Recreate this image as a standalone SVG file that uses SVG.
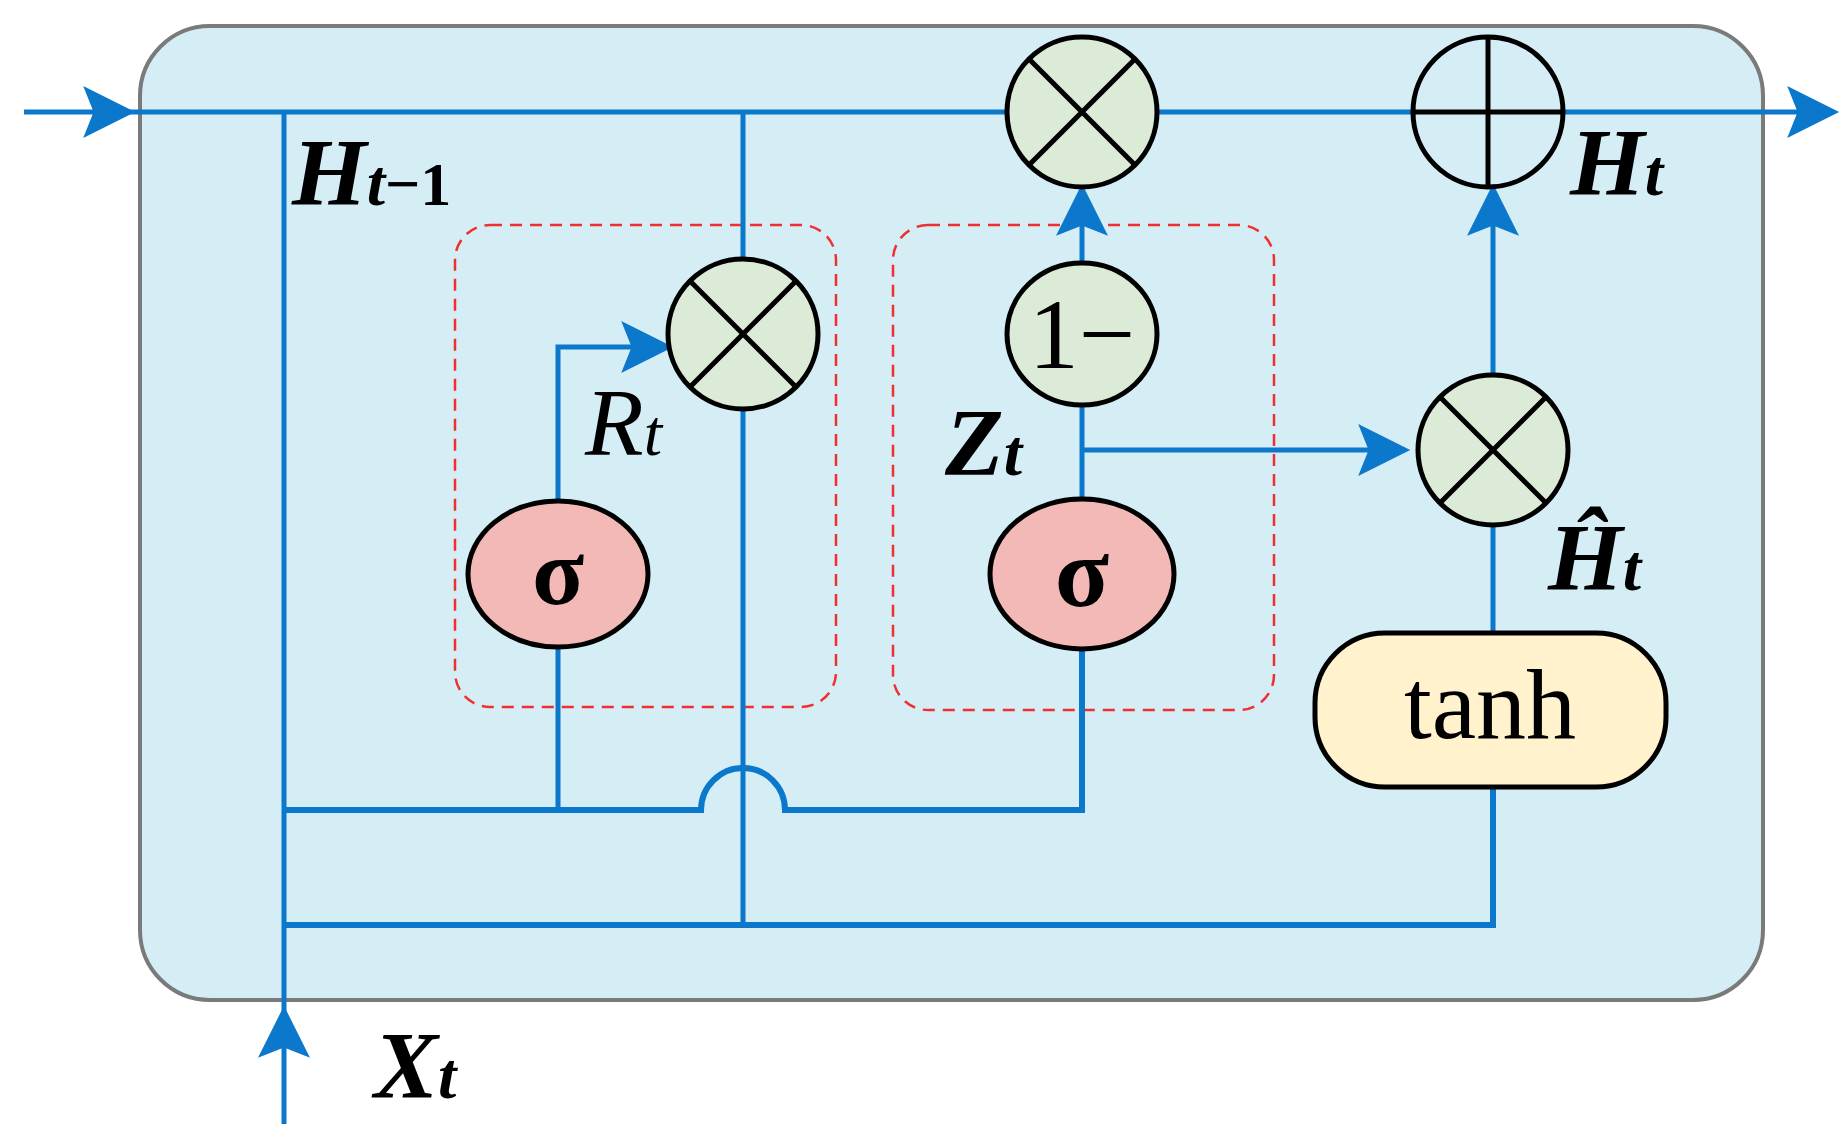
<svg xmlns="http://www.w3.org/2000/svg" width="1846" height="1142" viewBox="0 0 1846 1142">
<style>
.w{fill:none;stroke:#0b78cc;stroke-width:5}
.op{fill:#dcebd7;stroke:#000;stroke-width:5}
.sg{fill:#f2b9b7;stroke:#000;stroke-width:5}
.x{stroke:#000;stroke-width:5}
.dash{fill:none;stroke:#f03030;stroke-width:2.5;stroke-dasharray:12 8}
.lb{font-family:"Liberation Serif",serif;font-style:italic;font-weight:bold;fill:#000}
.t{font-family:"Liberation Serif",serif;fill:#000;text-anchor:middle}
</style>
<defs>
<marker id="b" viewBox="0 0 10 10" refX="9" refY="5" markerWidth="58" markerHeight="52" markerUnits="userSpaceOnUse" orient="auto"><path d="M0,0 L10,5 L0,10 L2,5 Z" fill="#0b78cc"/></marker>
</defs>
<g id="cell"><rect x="140" y="26" width="1623" height="974" rx="70" fill="#d5edf5" stroke="#7a7a7a" stroke-width="4"/></g>
<g id="regions">
<rect x="455" y="225" width="381" height="482" rx="35" class="dash"/>
<rect x="893" y="225" width="381" height="485" rx="35" class="dash"/>
</g>
<g id="connectors">
<path class="w" d="M24,112 H130" marker-end="url(#b)"/>
<path class="w" d="M130,112 H1007"/>
<path class="w" d="M1157,112 H1413"/>
<path class="w" d="M1563,112 H1834" marker-end="url(#b)"/>
<path class="w" d="M284,1124 V1011" marker-end="url(#b)"/>
<path class="w" d="M284,1011 V112"/>
<path class="w" d="M743,112 V259"/>
<path class="w" d="M743,409 V925"/>
<path class="w" style="stroke-width:6" d="M284,810 H701 A42,42 0 0 1 785,810 H1082 V649"/>
<path class="w" d="M558,810 V647"/>
<path class="w" d="M558,501 V347 H668" marker-end="url(#b)"/>
<path class="w" d="M1082,499 V405"/>
<path class="w" d="M1082,450 H1405" marker-end="url(#b)"/>
<path class="w" d="M1082,263 V189" marker-end="url(#b)"/>
<path class="w" d="M1493,375 V189" marker-end="url(#b)"/>
<path class="w" d="M1493,525 V633"/>
<path class="w" style="stroke-width:6" d="M1493,787 V925 H284"/>
</g>
<g id="mulTop"><circle cx="1082" cy="112" r="75" class="op"/><path class="x" d="M1029,59 L1135,165 M1135,59 L1029,165"/></g>
<g id="plus"><circle cx="1488" cy="112" r="75" fill="none" stroke="#000" stroke-width="5"/><path class="x" d="M1413,112 H1563 M1488,37 V187"/></g>
<g id="mulR"><circle cx="743" cy="334" r="75" class="op"/><path class="x" d="M690,281 L796,387 M796,281 L690,387"/></g>
<g id="oneMinus"><ellipse cx="1082" cy="334" rx="75" ry="71" class="op"/><text class="t" x="1082" y="368" font-size="100">1−</text></g>
<g id="mulH"><circle cx="1493" cy="450" r="75" class="op"/><path class="x" d="M1440,397 L1546,503 M1546,397 L1440,503"/></g>
<g id="sigmaR"><ellipse cx="558" cy="574" rx="90" ry="73" class="sg"/><text class="t" x="558" y="604" font-size="96" font-weight="bold">σ</text></g>
<g id="sigmaZ"><ellipse cx="1082" cy="574" rx="92" ry="75" class="sg"/><text class="t" x="1082" y="606" font-size="100" font-weight="bold">σ</text></g>
<g id="tanh"><rect x="1315" y="633" width="351" height="154" rx="70" fill="#fff2cc" stroke="#000" stroke-width="5"/><text class="t" x="1490" y="738" font-size="100">tanh</text></g>
<g id="labels">
<text class="lb" x="292" y="205" font-size="96">H<tspan font-size="66">t</tspan><tspan font-size="62" font-style="normal">−1</tspan></text>
<text class="lb" x="1570" y="195" font-size="96">H<tspan font-size="66">t</tspan></text>
<text class="lb" x="585" y="455" font-size="96" style="font-weight:normal">R<tspan font-size="66">t</tspan></text>
<text class="lb" x="945" y="475" font-size="96">Z<tspan font-size="66">t</tspan></text>
<text class="lb" x="1548" y="590" font-size="96">Ĥ<tspan font-size="66">t</tspan></text>
<text class="lb" x="374" y="1098" font-size="96">X<tspan font-size="66">t</tspan></text>
</g>
</svg>
